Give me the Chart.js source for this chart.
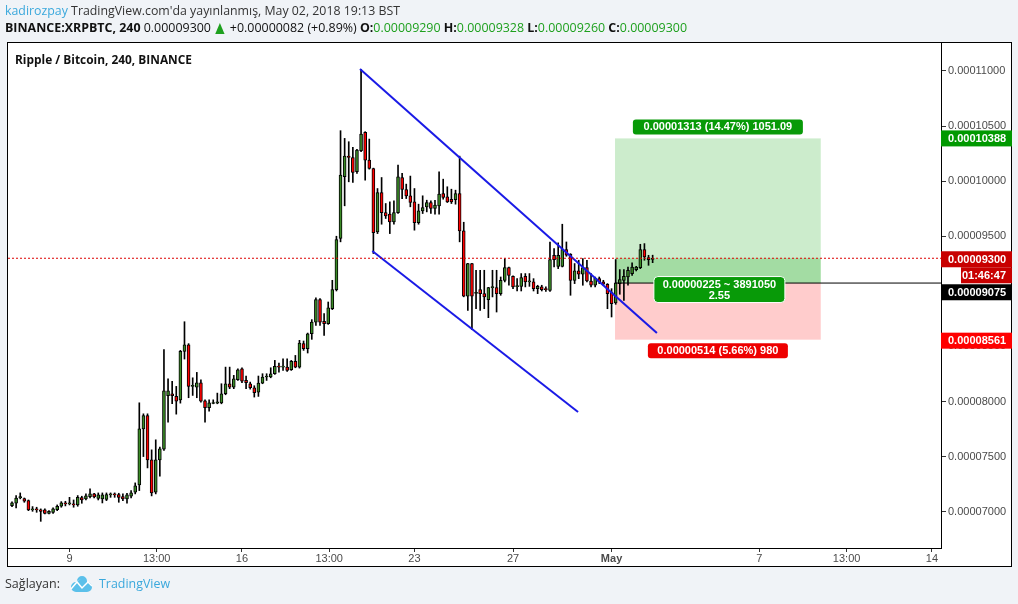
<!DOCTYPE html>
<html>
<head>
<meta charset="utf-8">
<script src="https://cdn.jsdelivr.net/npm/chart.js@4.4.0/dist/chart.umd.min.js"></script>
<style>
html, body { margin: 0; padding: 0; background: #f0f3f7; }
canvas { display: block; }
</style>
</head>
<body>
<canvas id="chart" width="1018" height="604"></canvas>
<script>
// XRPBTC 4h mumlar (satoshi cinsinden), 6 Nisan 16:00 - 2 Mayis 16:00
const opens = [7055,7076,7124,7119,7100,7016,7019,7016,7016,6985,6994,7019,7049,7073,7070,7070,7061,7127,7116,7137,
  7161,7121,7116,7112,7152,7155,7155,7137,7116,7140,7176,7243,7752,7873,7470,7176,7470,7567,8052,8070,
  8046,8015,8455,8515,8137,8131,8170,8006,7943,7982,7985,7988,8070,8161,8131,8197,8297,8191,8161,8125,
  8085,8167,8222,8222,8252,8315,8312,8312,8288,8364,8312,8525,8479,8615,8721,8924,8727,8706,8843,9015,
  9479,10040,10227,10215,10085,10276,10442,10191,10115,9540,9897,9715,9700,9630,9715,10033,9924,9867,9812,9624,
  9730,9767,9806,9752,9776,9888,9858,9836,9833,9888,9549,8955,9252,8980,9015,8979,8924,9033,9033,8979,
  9100,9215,9136,9043,9045,9136,9085,9085,9024,9040,9018,9009,9327,9227,9227,9379,9336,9100,9185,9155,
  9215,9094,9055,9115,9085,9064,8994,8894,9070,9100,9130,9161,9197,9215,9379,9306,9290];
const highs = [7088,7146,7170,7124,7106,7046,7040,7025,7025,7009,7034,7061,7091,7094,7130,7106,7146,7140,7161,7206,
  7167,7170,7170,7170,7170,7170,7167,7161,7167,7191,7261,7988,7888,7888,7561,7652,7585,8470,8206,8182,
  8137,8464,8724,8525,8215,8264,8197,8015,8015,8015,8076,8161,8312,8312,8237,8297,8306,8231,8176,8143,
  8231,8252,8252,8306,8373,8349,8388,8388,8373,8418,8555,8549,8621,8743,8940,8933,8797,8903,9100,9500,
  10458,10388,10358,10306,10288,11015,10449,10382,10118,9933,10033,9797,9812,9821,10145,10070,9973,10046,9933,9791,
  9867,9827,9821,9827,10085,10018,9949,9927,9918,10227,9627,9255,9255,9191,9191,9191,9036,9191,9191,9130,
  9297,9221,9140,9115,9161,9161,9161,9115,9055,9055,9040,9448,9388,9440,9609,9448,9342,9252,9282,9297,
  9282,9161,9130,9130,9100,9070,9024,9288,9197,9197,9221,9258,9227,9427,9433,9327,9328];
const lows = [7046,7034,7116,7085,7009,7003,6994,6912,6979,6979,6985,7009,7040,7052,7061,7040,7049,7076,7106,7124,
  7124,7106,7079,7100,7130,7130,7085,7100,7076,7124,7161,7191,7500,7397,7143,7161,7322,7555,7812,7979,
  7885,7985,8385,8034,8055,8034,7994,7812,7912,7979,7979,7979,8061,8116,8116,8191,8170,8116,8112,8040,
  8046,8161,8191,8215,8246,8267,8282,8273,8282,8306,8303,8464,8440,8564,8691,8691,8600,8700,8834,9003,
  9449,9776,9994,9988,10070,10267,10009,10109,9343,9524,9609,9661,9524,9609,9706,9842,9842,9767,9555,9609,
  9706,9721,9706,9700,9700,9836,9806,9797,9791,9449,8950,8827,8652,8842,8827,8842,8761,8949,8812,8964,
  9085,9055,9024,9003,9003,9040,9045,9003,8979,9003,9000,9000,9221,9206,9221,9318,8964,9070,9115,9055,
  9085,9040,9040,9070,9055,8842,8767,8882,8973,8918,9055,9145,9185,9206,9282,9236,9260];
const closes = [7079,7124,7137,7094,7016,7022,7016,7003,6985,7003,7025,7049,7079,7070,7076,7061,7130,7106,7143,7161,
  7134,7152,7152,7155,7155,7152,7130,7116,7152,7170,7234,7752,7873,7470,7170,7470,7570,8097,8097,8052,
  8003,8455,8515,8137,8143,8170,8003,7943,7988,7988,7997,8070,8161,8131,8206,8288,8185,8170,8125,8079,
  8167,8222,8228,8252,8318,8312,8318,8282,8364,8312,8531,8479,8615,8721,8924,8721,8706,8849,9015,9470,
  10055,10227,10215,10079,10282,10427,10191,10115,9533,9897,9715,9685,9630,9715,10040,9924,9867,9806,9624,9730,
  9761,9806,9752,9782,9882,9852,9812,9812,9888,9549,8955,9252,8955,8990,8979,8949,9033,9039,8979,9100,
  9215,9145,9040,9049,9124,9085,9090,9024,9045,9015,9015,9288,9288,9327,9379,9327,9100,9185,9155,9215,
  9094,9055,9121,9085,9064,8979,8888,9076,9106,9136,9191,9221,9221,9379,9312,9288,9300];

// zaman ekseni: gun (Nisan), 4 saatlik adim
const firstCandleDay = 6 + 16 / 24;
const candleStepDays = 4 / 24;

const xTickValues = [9, 12.54, 16, 19.54, 23, 27, 31, 37, 40.54, 44];
const xTickLabels = ['9', '13:00', '16', '13:00', '23', '27', 'May', '7', '13:00', '14'];
const yTickValues = [7000, 7500, 8000, 8500, 9000, 9500, 10000, 10500, 11000];

// kanal cizgileri
const upperChannel = [{ x: 20.79, y: 11018 }, { x: 32.84, y: 8622 }];
const lowerChannel = [{ x: 21.29, y: 9366 }, { x: 29.64, y: 7905 }];

// long pozisyon araci
const posStart = 31.14;
const posEnd = 39.49;
const entryPrice = 9075;
const targetPrice = 10388;
const stopPrice = 8561;
const lastPrice = 9300;
const targetText = '0.00001313 (14.47%) 1051.09';
const midText = ['0.00000225 ~ 3891050', '2.55'];
const stopText = '0.00000514 (5.66%) 980';
const countdownText = '01:46:47';

const xMin = 6.504, xMax = 44.37;
const yMin = 6670, yMax = 11254;

const UP = '#3a8a26';
const DOWN = '#ff0000';

const candleX = opens.map((o, i) => firstCandleDay + i * candleStepDays);
const bodies = opens.map((o, i) => ({ x: candleX[i], y: [o, closes[i]] }));
const wicks = opens.map((o, i) => ({ x: candleX[i], y: [lows[i], highs[i]] }));

const sat = v => (v / 1e8).toFixed(8);

function roundRect(ctx, x, y, w, h, r) {
    ctx.beginPath();
    ctx.moveTo(x + r, y);
    ctx.lineTo(x + w - r, y);
    ctx.quadraticCurveTo(x + w, y, x + w, y + r);
    ctx.lineTo(x + w, y + h - r);
    ctx.quadraticCurveTo(x + w, y + h, x + w - r, y + h);
    ctx.lineTo(x + r, y + h);
    ctx.quadraticCurveTo(x, y + h, x, y + h - r);
    ctx.lineTo(x, y + r);
    ctx.quadraticCurveTo(x, y, x + r, y);
    ctx.closePath();
}

// yazi parcalarini yan yana ciz, hedef genislige sigdir
function drawRuns(ctx, runs, x, y, targetWidth) {
    let total = 0;
    runs.forEach(r => {
        if (r.tri) { total += r.w; return; }
        ctx.font = r.font;
        total += ctx.measureText(r.text).width;
    });
    const k = targetWidth ? targetWidth / total : 1;
    ctx.save();
    ctx.translate(x, y);
    ctx.scale(k, 1);
    let cx = 0;
    runs.forEach(r => {
        if (r.tri) {
            ctx.fillStyle = r.color;
            ctx.beginPath();
            ctx.moveTo(cx + 1, 5);
            ctx.lineTo(cx + r.w - 2, 5);
            ctx.lineTo(cx + (r.w - 1) / 2, -6);
            ctx.closePath();
            ctx.fill();
            cx += r.w;
            return;
        }
        ctx.font = r.font;
        ctx.fillStyle = r.color;
        ctx.textBaseline = 'middle';
        ctx.textAlign = 'left';
        ctx.fillText(r.text, cx, 0);
        cx += ctx.measureText(r.text).width;
    });
    ctx.restore();
}

const frame = {
    id: 'frame',
    beforeDraw(chart) {
        const ctx = chart.ctx;
        ctx.save();
        ctx.fillStyle = '#f0f3f7';
        ctx.fillRect(0, 0, chart.width, chart.height);
        ctx.fillStyle = '#ffffff';
        ctx.fillRect(7, 42, 1005, 525);
        ctx.restore();
    },
    beforeDatasetsDraw(chart) {
        const ctx = chart.ctx;
        const xs = chart.scales.x, ys = chart.scales.y;
        const x1 = xs.getPixelForValue(posStart), x2 = xs.getPixelForValue(posEnd);
        const yT = ys.getPixelForValue(targetPrice), yE = ys.getPixelForValue(entryPrice);
        const yS = ys.getPixelForValue(stopPrice), yL = ys.getPixelForValue(lastPrice);
        ctx.save();
        ctx.fillStyle = 'rgba(0,160,0,0.2)';
        ctx.fillRect(x1, yT, x2 - x1, yE - yT);
        ctx.fillRect(x1, yL, x2 - x1, yE - yL);
        ctx.fillStyle = 'rgba(255,0,0,0.2)';
        ctx.fillRect(x1, yE, x2 - x1, yS - yE);
        ctx.restore();
    },
    afterDraw(chart) {
        const ctx = chart.ctx;
        const xs = chart.scales.x, ys = chart.scales.y;
        const area = chart.chartArea;
        ctx.save();

        // cerceve
        ctx.strokeStyle = '#000';
        ctx.lineWidth = 1;
        ctx.strokeRect(7.5, 42.5, 1004, 524);

        // baslik
        const f = 'Open Sans, Liberation Sans, sans-serif';
        drawRuns(ctx, [
            { text: 'kadirozpay', font: '12px ' + f, color: '#3aa8dc' },
            { text: " TradingView.com'da yayınlanmış, May 02, 2018 19:13 BST", font: '12px ' + f, color: '#333' }
        ], 5, 12, 395);
        const g = '#1ea01e';
        drawRuns(ctx, [
            { text: 'BINANCE:XRPBTC, 240', font: 'bold 12px ' + f, color: '#111' },
            { text: ' 0.00009300 ', font: '12px ' + f, color: '#111' },
            { tri: true, w: 12, color: '#1ea01e' },
            { text: ' +0.00000082 (+0.89%) ', font: '12px ' + f, color: '#111' },
            { text: 'O:', font: 'bold 12px ' + f, color: '#111' },
            { text: '0.00009290 ', font: '12px ' + f, color: g },
            { text: 'H:', font: 'bold 12px ' + f, color: '#111' },
            { text: '0.00009328 ', font: '12px ' + f, color: g },
            { text: 'L:', font: 'bold 12px ' + f, color: '#111' },
            { text: '0.00009260 ', font: '12px ' + f, color: g },
            { text: 'C:', font: 'bold 12px ' + f, color: '#111' },
            { text: '0.00009300', font: '12px ' + f, color: g }
        ], 5, 29, 682);

        drawRuns(ctx, [
            { text: 'Ripple / Bitcoin, 240, BINANCE', font: 'bold 12px ' + f, color: '#111' }
        ], 15, 61, 177);

        // alt bilgi
        drawRuns(ctx, [{ text: 'Sağlayan:', font: '13px ' + f, color: '#333' }], 5, 584, 55);
        ctx.fillStyle = '#5bc0ea';
        ctx.beginPath();
        ctx.arc(76, 587, 5, Math.PI * 0.5, Math.PI * 1.5);
        ctx.lineTo(81, 579);
        ctx.arc(82, 581, 5, Math.PI, Math.PI * 2);
        ctx.arc(87, 587, 5, Math.PI * 1.5, Math.PI * 0.5);
        ctx.closePath();
        ctx.fill();
        ctx.strokeStyle = '#fff';
        ctx.lineWidth = 1.5;
        ctx.beginPath();
        ctx.moveTo(71, 589); ctx.lineTo(77, 582); ctx.lineTo(82, 588); ctx.lineTo(88, 582); ctx.lineTo(92, 586);
        ctx.stroke();
        drawRuns(ctx, [{ text: 'TradingView', font: '13px ' + f, color: '#3aa8dc' }], 99, 584, 71);

        // pozisyon etiketleri
        const x1 = xs.getPixelForValue(posStart), x2 = xs.getPixelForValue(posEnd);
        const cx = (x1 + x2) / 2;
        const yT = ys.getPixelForValue(targetPrice), yE = ys.getPixelForValue(entryPrice);
        const yS = ys.getPixelForValue(stopPrice);
        ctx.font = 'bold 11px Liberation Sans, Arial, sans-serif';
        ctx.textAlign = 'center';
        ctx.textBaseline = 'middle';

        ctx.fillStyle = '#089a08';
        roundRect(ctx, cx - 85, yT - 19, 170, 15, 3);
        ctx.fill();
        ctx.fillStyle = '#fff';
        ctx.fillText(targetText, cx, yT - 11.5);

        ctx.fillStyle = '#089a08';
        roundRect(ctx, cx - 64, yE - 6.5, 131, 26, 4);
        ctx.fill();
        ctx.strokeStyle = '#fff';
        ctx.lineWidth = 1;
        ctx.stroke();
        ctx.fillStyle = '#fff';
        ctx.fillText(midText[0], cx + 1.5, yE + 1.5);
        ctx.fillText(midText[1], cx + 1.5, yE + 12.5);

        ctx.fillStyle = '#ee0000';
        roundRect(ctx, cx - 70, yS + 3.5, 140, 15, 3);
        ctx.fill();
        ctx.fillStyle = '#fff';
        ctx.fillText(stopText, cx, yS + 11);

        // sag eksen etiketleri
        const ax = area.right;
        ctx.textAlign = 'left';
        const tag = (y, text, bg) => {
            ctx.fillStyle = bg;
            ctx.fillRect(ax, y, 71, 16);
            ctx.fillStyle = '#fff';
            ctx.fillText(text, ax + 7, y + 8.5);
        };
        const yLast = ys.getPixelForValue(lastPrice);
        tag(ys.getPixelForValue(targetPrice) - 8, sat(targetPrice), '#009900');
        tag(yLast - 7, sat(lastPrice), '#c80000');
        ctx.fillStyle = '#c80000';
        ctx.fillRect(ax + 20, yLast + 9, 51, 16);
        ctx.fillStyle = '#fff';
        ctx.textAlign = 'right';
        ctx.fillText(countdownText, ax + 65, yLast + 17.5);
        ctx.textAlign = 'left';
        tag(yLast + 26, sat(entryPrice), '#000000');
        tag(ys.getPixelForValue(stopPrice) - 7, sat(stopPrice), '#ff0000');

        ctx.restore();
    }
};

new Chart(document.getElementById('chart').getContext('2d'), {
    type: 'bar',
    data: {
        datasets: [
            {
                label: 'body',
                data: bodies,
                grouped: false,
                barThickness: 3,
                minBarLength: 1,
                borderWidth: 1,
                borderSkipped: false,
                borderColor: '#000',
                backgroundColor: c => closes[c.dataIndex] >= opens[c.dataIndex] ? UP : DOWN,
                order: 1
            },
            {
                label: 'wick',
                data: wicks,
                grouped: false,
                barThickness: 1,
                borderWidth: 0,
                backgroundColor: '#000',
                order: 2
            },
            {
                type: 'line',
                label: 'last',
                data: [{ x: xMin, y: lastPrice }, { x: xMax, y: lastPrice }],
                borderColor: '#dd0000',
                borderWidth: 1,
                borderDash: [2, 2],
                pointRadius: 0,
                order: 0
            },
            {
                type: 'line',
                label: 'entry',
                data: [{ x: posStart, y: entryPrice }, { x: xMax, y: entryPrice }],
                borderColor: '#000',
                borderWidth: 1,
                pointRadius: 0,
                order: 0
            },
            {
                type: 'line',
                label: 'upper',
                data: upperChannel,
                borderColor: '#1a1ae6',
                borderWidth: 2,
                pointRadius: 0,
                order: 0
            },
            {
                type: 'line',
                label: 'lower',
                data: lowerChannel,
                borderColor: '#1a1ae6',
                borderWidth: 2,
                pointRadius: 0,
                order: 0
            }
        ]
    },
    options: {
        responsive: false,
        animation: false,
        events: [],
        layout: { padding: { left: 8, top: 43, right: 6, bottom: 37 } },
        plugins: {
            legend: { display: false },
            tooltip: { enabled: false }
        },
        scales: {
            x: {
                type: 'linear',
                min: xMin,
                max: xMax,
                offset: false,
                afterBuildTicks: s => { s.ticks = xTickValues.map(v => ({ value: v })); },
                afterFit: s => { s.height = 19; },
                grid: { offset: false, drawOnChartArea: false, drawTicks: true, tickLength: 4, color: '#333' },
                border: { display: true, color: '#000' },
                ticks: {
                    autoSkip: false,
                    maxRotation: 0,
                    padding: 0,
                    color: '#4a4a4a',
                    font: c => ({ family: 'Liberation Sans, Arial, sans-serif', size: 11, weight: c.index === 6 ? 'bold' : 'normal' }),
                    callback: (v, i) => xTickLabels[i]
                }
            },
            y: {
                position: 'right',
                min: yMin,
                max: yMax,
                afterBuildTicks: s => { s.ticks = yTickValues.map(v => ({ value: v })); },
                afterFit: s => { s.width = 71; },
                grid: { drawOnChartArea: false, drawTicks: true, tickLength: 5, color: '#333' },
                border: { display: true, color: '#000' },
                ticks: {
                    padding: 2,
                    color: '#4a4a4a',
                    font: { family: 'Liberation Sans, Arial, sans-serif', size: 11 },
                    callback: v => sat(v)
                }
            }
        }
    },
    plugins: [frame]
});
</script>
</body>
</html>
